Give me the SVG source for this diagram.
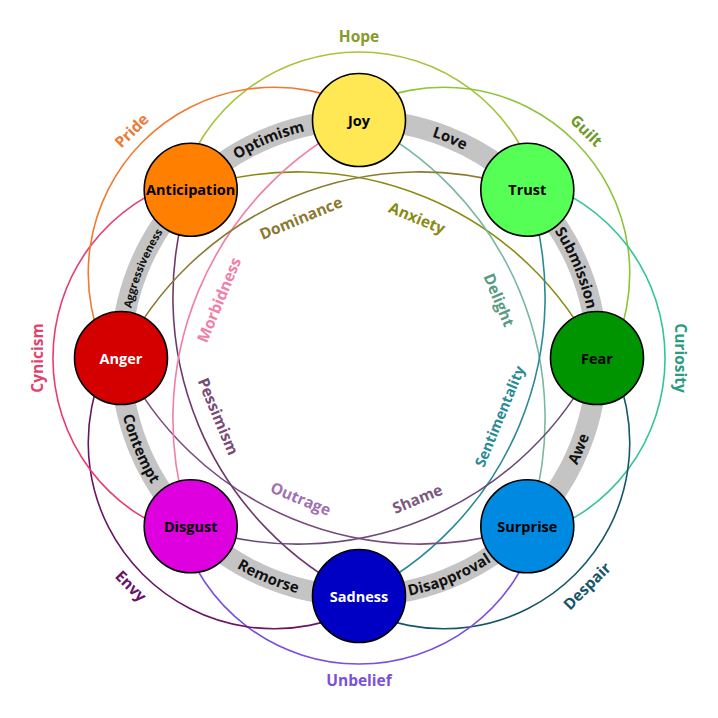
<svg xmlns="http://www.w3.org/2000/svg" width="718" height="718" viewBox="0 0 718 718">
<style>
text{font-family:"Open Sans","Noto Sans","Liberation Sans",sans-serif;font-weight:bold}
.ring{fill:none;stroke:#c4c4c4;stroke-width:21}
.dy{fill:none;stroke-width:1.6}
.node circle{stroke:#000;stroke-width:1.6}
.nl{font-size:14.5px;text-anchor:middle;dominant-baseline:central;fill:#000}
.nw{fill:#fff}
.rl{font-size:15px;fill:#111;text-anchor:middle}
.dl{font-size:15.5px;text-anchor:middle;dominant-baseline:central}
</style>
<defs>
<path id="pOpt" d="M194.2 193.2 A233 233 0 0 1 359 125"/>
<path id="pLove" d="M359 125 A233 233 0 0 1 523.8 193.2"/>
<path id="pSub" d="M523.8 193.2 A233 233 0 0 1 592 358"/>
<path id="pAgg" d="M126 358 A233 233 0 0 1 194.2 193.2"/>
<path id="pAwe" d="M530.8 529.8 A243 243 0 0 0 602 358"/>
<path id="pDis" d="M359 601 A243 243 0 0 0 530.8 529.8"/>
<path id="pRem" d="M187.2 529.8 A243 243 0 0 0 359 601"/>
<path id="pCon" d="M116 358 A243 243 0 0 0 187.2 529.8"/>
</defs>
<rect width="718" height="718" fill="#fff"/>
<g id="ring">
<circle class="ring" cx="359" cy="358" r="238"/>
</g>
<g id="connectors">
<path class="dy" stroke="#a6c43c" d="M180.2 186.7 A186 186 0 0 1 537.8 186.7"/>
<path class="dy" stroke="#8ec43a" d="M353.7 110.5 A186 186 0 0 1 606.5 363.3"/>
<path class="dy" stroke="#34c49a" d="M530.3 179.2 A186 186 0 0 1 530.3 536.8"/>
<path class="dy" stroke="#17566a" d="M606.5 352.7 A186 186 0 0 1 353.7 605.5"/>
<path class="dy" stroke="#7a4ee0" d="M537.8 529.3 A186 186 0 0 1 180.2 529.3"/>
<path class="dy" stroke="#6a1466" d="M364.3 605.5 A186 186 0 0 1 111.5 352.7"/>
<path class="dy" stroke="#ea3c6c" d="M187.7 536.8 A186 186 0 0 1 187.7 179.2"/>
<path class="dy" stroke="#f07a32" d="M111.5 363.3 A186 186 0 0 1 364.3 110.5"/>
<path class="dy" stroke="#8a8a12" d="M190.7 189.7 A333.1 333.1 0 0 1 597 358"/>
<path class="dy" stroke="#7ab8a0" d="M359 120 A333.1 333.1 0 0 1 527.3 526.3"/>
<path class="dy" stroke="#2a8a98" d="M527.3 189.7 A333.1 333.1 0 0 1 359 596"/>
<path class="dy" stroke="#6a4a78" d="M597 358 A333.1 333.1 0 0 1 190.7 526.3"/>
<path class="dy" stroke="#7a4a7e" d="M527.3 526.3 A333.1 333.1 0 0 1 121 358"/>
<path class="dy" stroke="#6e3a6c" d="M359 596 A333.1 333.1 0 0 1 190.7 189.7"/>
<path class="dy" stroke="#f07ea6" d="M190.7 526.3 A333.1 333.1 0 0 1 359 120"/>
<path class="dy" stroke="#8a7a30" d="M121 358 A333.1 333.1 0 0 1 527.3 189.7"/>
</g>
<g id="ring-labels">
<text class="rl"><textPath href="#pOpt" startOffset="50%">Optimism</textPath></text>
<text class="rl"><textPath href="#pLove" startOffset="50%">Love</textPath></text>
<text class="rl"><textPath href="#pSub" startOffset="50%">Submission</textPath></text>
<text class="rl" style="font-size:11px"><textPath href="#pAgg" startOffset="50%">Aggressiveness</textPath></text>
<text class="rl"><textPath href="#pAwe" startOffset="50%">Awe</textPath></text>
<text class="rl"><textPath href="#pDis" startOffset="50%">Disapproval</textPath></text>
<text class="rl"><textPath href="#pRem" startOffset="50%">Remorse</textPath></text>
<text class="rl"><textPath href="#pCon" startOffset="50%">Contempt</textPath></text>
</g>
<g id="dyad-labels">
<text class="dl" fill="#879a2c" transform="translate(359 36)">Hope</text>
<text class="dl" fill="#6e9a2c" transform="translate(586.7 130.3) rotate(45)">Guilt</text>
<text class="dl" fill="#2a9a80" transform="translate(681 358) rotate(90)">Curiosity</text>
<text class="dl" fill="#17566a" transform="translate(586.7 585.7) rotate(-45)">Despair</text>
<text class="dl" fill="#7a50da" transform="translate(359 680)">Unbelief</text>
<text class="dl" fill="#6a1466" transform="translate(131.3 585.7) rotate(45)">Envy</text>
<text class="dl" fill="#e4406c" transform="translate(37 358) rotate(-90)">Cynicism</text>
<text class="dl" fill="#ec7a38" transform="translate(131.3 130.3) rotate(-45)">Pride</text>
<text class="dl" fill="#8a8a12" transform="translate(417.2 217.6) rotate(22.5)">Anxiety</text>
<text class="dl" fill="#5a9a82" transform="translate(499.4 299.8) rotate(67.5)">Delight</text>
<text class="dl" fill="#2a8a98" transform="translate(499.4 416.2) rotate(-67.5)" style="font-size:14.5px">Sentimentality</text>
<text class="dl" fill="#7a5a80" transform="translate(417.2 498.4) rotate(-22.5)">Shame</text>
<text class="dl" fill="#a070b0" transform="translate(300.8 498.4) rotate(22.5)">Outrage</text>
<text class="dl" fill="#7a4a78" transform="translate(218.6 416.2) rotate(67.5)">Pessimism</text>
<text class="dl" fill="#f080a8" transform="translate(218.6 299.8) rotate(-67.5)">Morbidness</text>
<text class="dl" fill="#8a7a30" transform="translate(300.8 217.6) rotate(-22.5)">Dominance</text>
</g>
<g id="joy" class="node"><circle cx="359" cy="120" r="46.5" fill="#ffe854"/><text class="nl" x="359" y="120">Joy</text></g>
<g id="trust" class="node"><circle cx="527.3" cy="189.7" r="46.5" fill="#55ff55"/><text class="nl" x="527.3" y="189.7">Trust</text></g>
<g id="fear" class="node"><circle cx="597" cy="358" r="46.5" fill="#009400"/><text class="nl" x="597" y="358">Fear</text></g>
<g id="surprise" class="node"><circle cx="527.3" cy="526.3" r="46.5" fill="#0089e0"/><text class="nl" x="527.3" y="526.3">Surprise</text></g>
<g id="sadness" class="node"><circle cx="359" cy="596" r="46.5" fill="#0000c4"/><text class="nl nw" x="359" y="596">Sadness</text></g>
<g id="disgust" class="node"><circle cx="190.7" cy="526.3" r="46.5" fill="#de00de"/><text class="nl" x="190.7" y="526.3">Disgust</text></g>
<g id="anger" class="node"><circle cx="121" cy="358" r="46.5" fill="#d40000"/><text class="nl nw" x="121" y="358">Anger</text></g>
<g id="anticipation" class="node"><circle cx="190.7" cy="189.7" r="46.5" fill="#ff8000"/><text class="nl" x="190.7" y="189.7">Anticipation</text></g>
</svg>
